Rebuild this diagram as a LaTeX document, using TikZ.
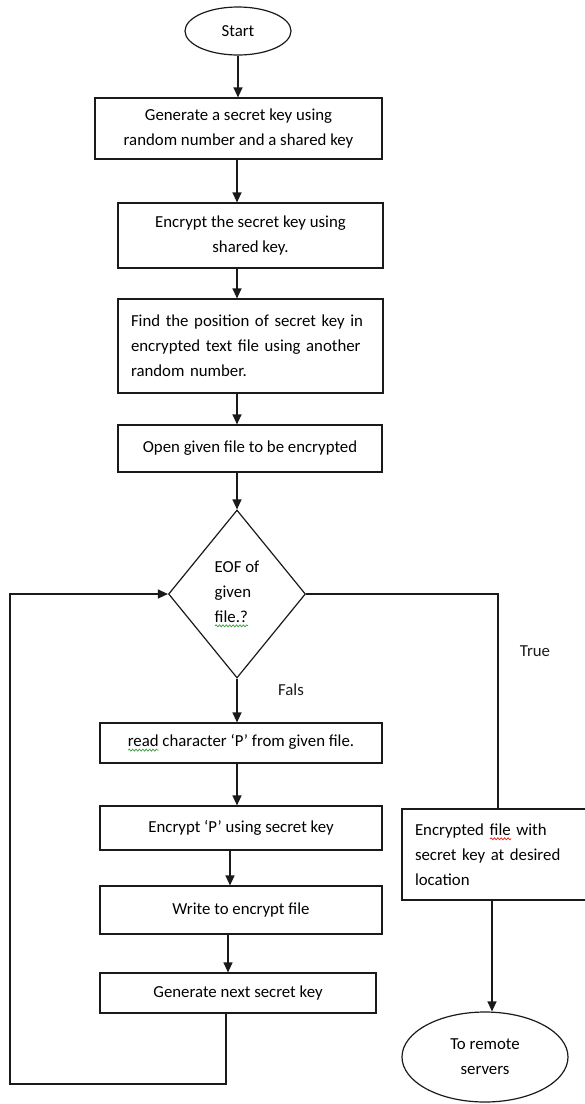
\documentclass[tikz,border=0pt]{standalone}
\usepackage{fontspec}
\setmainfont{Carlito}
\usepackage{tikz}
\usetikzlibrary{shapes.geometric,arrows.meta,decorations.pathmorphing}
\definecolor{ink}{HTML}{1A1A1A}
\definecolor{spellgreen}{HTML}{3A9A3A}
\definecolor{spellred}{HTML}{E02020}
\newlength{\spellwd}
\newcommand{\spellmark}[2]{\settowidth{\spellwd}{#2}\leavevmode\rlap{\tikz[baseline=0pt, x=1pt, y=1pt]
  \draw[draw=#1, line width=0.7pt, decorate, decoration={snake, amplitude=1pt, segment length=3.4pt}]
  (0pt,-3.5pt) -- (\spellwd,-3.5pt);}#2}
\tikzset{
  box/.style={draw=ink, line width=1.2pt, rectangle, inner sep=0pt, align=center},
  boxl/.style={draw=ink, line width=1.2pt, rectangle, inner ysep=0pt, inner xsep=13pt, align=left},
  term/.style={draw=ink, line width=1.2pt, ellipse, inner sep=0pt, align=center},
  decision/.style={draw=ink, line width=1.2pt, diamond, inner sep=1pt, align=left},
  line/.style={draw=ink, line width=1.2pt},
  arrow/.style={line, -{Triangle[length=10pt,width=9pt]}},
  lab/.style={text=ink, inner sep=0pt},
}

\begin{document}
\begin{tikzpicture}[x=1pt, y=-1pt, font=\fontsize{16.8}{25}\selectfont]
  \useasboundingbox (0,0) rectangle (585,1104);
  \coordinate (spine) at (237,0);
  \coordinate (loopbot) at (10,1084);

  % main column
  \node[term, minimum width=106pt, minimum height=48pt] (start) at (238,31) {Start};
  \node[box, minimum width=287pt, minimum height=61pt] (gen) at (238.5,128.5)
    {Generate a secret key using\\random number and a shared key};
  \node[box, minimum width=265pt, minimum height=65pt] (enc) at (250.5,235.5)
    {Encrypt the secret key using\\shared key.};
  \node[boxl, text width=239pt, minimum height=94pt] (pos) at (250.5,346)
    {Find the position of secret key in\\encrypted text file using another\\random number.};
  \node[box, minimum width=264pt, minimum height=47pt] (open) at (250,448.5)
    {Open given file to be encrypted};
  \node[decision, minimum width=137pt, minimum height=168pt] (eof) at (237,594)
    {EOF of\\given\\\spellmark{spellgreen}{file.?}\hspace*{6pt}};

  % loop body
  \node[box, minimum width=282pt, minimum height=40pt] (read) at (241,743)
    {\spellmark{spellgreen}{read} character ‘P’ from given file.};
  \node[box, minimum width=282pt, minimum height=44pt] (encp) at (241,828)
    {Encrypt ‘P’ using secret key};
  \node[box, minimum width=282pt, minimum height=48pt] (write) at (241,910)
    {Write to encrypt file};
  \node[box, minimum width=276pt, minimum height=40pt] (next) at (238,993)
    {Generate next secret key};

  % exit branch
  \node[boxl, text width=158pt, minimum height=91pt] (done) at (494,854.5)
    {Encrypted \spellmark{spellred}{file} with\\secret key at desired\\location};
  \node[term, minimum width=166pt, minimum height=90pt] (remote) at (485,1057)
    {To remote\\servers};

  \node[lab] (fals) at (291,690) {Fals};
  \node[lab] (true) at (535,651) {True};

  % connectors
  \draw[arrow] (start.south) -- (start.south |- gen.north);
  \draw[arrow] (spine |- gen.south) -- (spine |- enc.north);
  \draw[arrow] (spine |- enc.south) -- (spine |- pos.north);
  \draw[arrow] (spine |- pos.south) -- (spine |- open.north);
  \draw[arrow] (spine |- open.south) -- (eof.north);
  \draw[arrow] (eof.south) -- (spine |- read.north);
  \draw[arrow] (spine |- read.south) -- (spine |- encp.north);
  \draw[arrow] ([xshift=-11pt]encp.south) -- ([xshift=-11pt]encp.south |- write.north);
  \draw[arrow] ([xshift=-13pt]write.south) -- ([xshift=-13pt]write.south |- next.north);
  \draw[arrow] ([xshift=-12pt]next.south) |- (loopbot) |- (eof.west);
  \draw[line] (eof.east) -| ([xshift=4pt]done.north);
  \draw[arrow] ([xshift=-2pt]done.south) -- ([xshift=-2pt]done.south |- remote.north);
\end{tikzpicture}
\end{document}
